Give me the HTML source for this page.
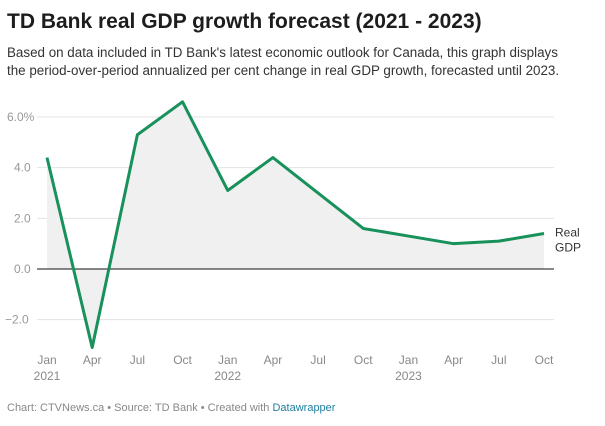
<!DOCTYPE html>
<html><head><meta charset="utf-8"><style>
body{margin:0;width:605px;height:426px;background:#fff;font-family:"Liberation Sans",sans-serif;overflow:hidden}
h1{position:absolute;left:7px;top:10px;margin:0;font-size:21px;font-weight:bold;color:#1d1d1d}
p.d{position:absolute;left:7px;top:44px;margin:0;font-size:13.4px;line-height:18px;color:#333;white-space:nowrap}
.f{position:absolute;left:7px;top:402px;font-size:11px;color:#888}
.f span{color:#1d81a2}
svg{position:absolute;left:0;top:0}
</style></head><body>
<h1>TD Bank real GDP growth forecast (2021 - 2023)</h1>
<p class="d">Based on data included in TD Bank's latest economic outlook for Canada, this graph displays<br>the period-over-period annualized per cent change in real GDP growth, forecasted until 2023.</p>
<svg id="c" width="605" height="426"></svg>
<div class="f">Chart: CTVNews.ca • Source: TD Bank • Created with <span>Datawrapper</span></div>
<script>
const months=["Jan","Apr","Jul","Oct","Jan","Apr","Jul","Oct","Jan","Apr","Jul","Oct"];
const years=["2021","","","","2022","","","","2023","","",""];
const values=[4.4,-3.1,5.3,6.6,3.1,4.4,3.0,1.6,1.3,1.0,1.1,1.4];
const yTicks=[-2,0,2,4,6];
const yLabels=["−2.0","0.0","2.0","4.0","6.0%"];
const NS="http://www.w3.org/2000/svg",svg=document.getElementById('c');
const x=i=>47+i*(497/11), y=v=>269-v*25.33;
function mk(t,a){const e=document.createElementNS(NS,t);for(const k in a)e.setAttribute(k,a[k]);svg.appendChild(e);return e;}
yTicks.forEach((t,i)=>{
 if(t!==0){const g=mk('line',{x1:37,x2:554,y1:y(t),y2:y(t),stroke:'#e3e3e3','stroke-width':1});
 
 }
 const l=mk('text',{x:t===6?7:(t<0?5:14),y:y(t)+4,'font-size':12,fill:'#999'});
 l.textContent=yLabels[i];
 
 
});
let d='M'+x(0)+','+y(0);values.forEach((v,i)=>d+='L'+x(i)+','+y(v));d+='L'+x(values.length-1)+','+y(0)+'Z';
const area=mk('path',{d:d,fill:'#f0f0f0'});


const z=mk('line',{x1:37,x2:554,y1:y(0),y2:y(0),stroke:'#111','stroke-width':1});


const ln=mk('polyline',{points:values.map((v,i)=>x(i)+','+y(v)).join(' '),fill:'none',stroke:'#18915b','stroke-width':3,'stroke-linejoin':'round'});


months.forEach((m,i)=>{
 const t=mk('text',{x:x(i),y:364,'font-size':12,fill:'#888','text-anchor':'middle'});t.textContent=m;
 
 
 if(years[i]){const yy=mk('text',{x:x(i),y:380,'font-size':12,fill:'#888','text-anchor':'middle'});yy.textContent=years[i];
 
 }
});
const lb=mk('text',{x:555,y:y(values[11])+3,'font-size':12,fill:'#333'});
lb.innerHTML='<tspan x="555">Real</tspan><tspan x="555" dy="15">GDP</tspan>';


</script>
</body></html>
